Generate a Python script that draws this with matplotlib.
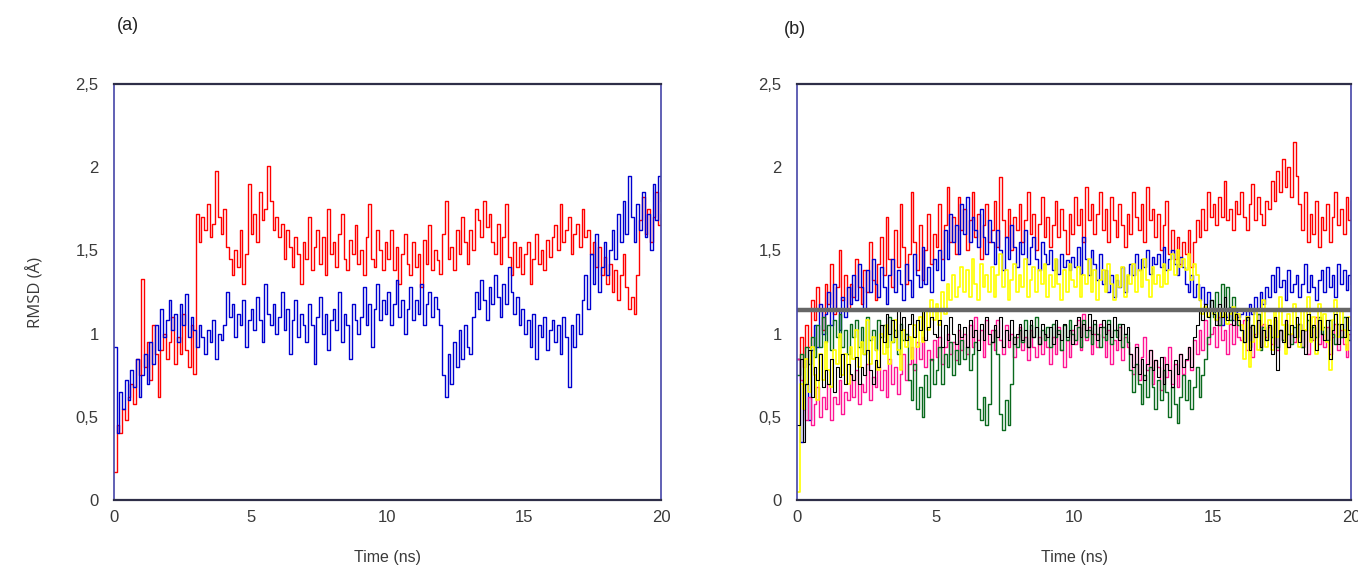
import numpy as np
import matplotlib
matplotlib.use("Agg")
import matplotlib.pyplot as plt
from matplotlib.ticker import FuncFormatter

# RMSD traces, both panels sampled every 0.1 ns
t = np.round(np.arange(0, 20.05, 0.1), 2)

# (a)
rmsd_a_red = [
    0.17, 0.45, 0.40, 0.55, 0.48, 0.62, 0.70, 0.58, 0.85, 0.75,
    1.33, 0.80, 0.95, 0.72, 1.05, 0.88, 0.62, 0.90, 1.00, 0.85,
    0.95, 1.10, 0.82, 0.98, 0.88, 1.12, 0.90, 0.80, 1.05, 0.76,
    1.72, 1.55, 1.70, 1.62, 1.78, 1.58, 1.66, 1.98, 1.70, 1.60,
    1.75, 1.52, 1.45, 1.35, 1.50, 1.40, 1.62, 1.30, 1.48, 1.90,
    1.60, 1.72, 1.55, 1.85, 1.68, 1.75, 2.01, 1.80, 1.62, 1.70,
    1.58, 1.66, 1.45, 1.62, 1.52, 1.40, 1.58, 1.48, 1.30, 1.55,
    1.45, 1.70, 1.38, 1.52, 1.62, 1.42, 1.58, 1.35, 1.75, 1.48,
    1.55, 1.40, 1.60, 1.72, 1.45, 1.38, 1.56, 1.48, 1.65, 1.42,
    1.50, 1.35, 1.58, 1.78, 1.45, 1.40, 1.62, 1.50, 1.38, 1.55,
    1.45, 1.62, 1.38, 1.52, 1.30, 1.48, 1.60, 1.42, 1.35, 1.55,
    1.40, 1.48, 1.28, 1.56, 1.42, 1.65, 1.38, 1.50, 1.44, 1.36,
    1.60, 1.80, 1.45, 1.52, 1.38, 1.62, 1.48, 1.70, 1.55, 1.42,
    1.62, 1.50, 1.75, 1.68, 1.58, 1.80, 1.64, 1.72, 1.55, 1.48,
    1.66, 1.42, 1.58, 1.78, 1.46, 1.35, 1.55, 1.40, 1.52, 1.36,
    1.48, 1.55, 1.30, 1.45, 1.60, 1.42, 1.50, 1.38, 1.56, 1.46,
    1.58, 1.65, 1.50, 1.78, 1.55, 1.62, 1.70, 1.48, 1.60, 1.66,
    1.52, 1.75, 1.58, 1.62, 1.48, 1.55, 1.40, 1.52, 1.35, 1.46,
    1.30, 1.42, 1.25, 1.38, 1.20, 1.35, 1.48, 1.28, 1.15, 1.22,
    1.12, 1.35, 1.68, 1.82, 1.60, 1.75, 1.55, 1.70, 1.85, 1.65,
    1.72,
]
rmsd_a_blue = [
    0.92, 0.40, 0.65, 0.55, 0.72, 0.60, 0.78, 0.68, 0.85, 0.62,
    0.75, 0.88, 0.70, 0.95, 0.82, 1.05, 0.90, 1.15, 0.98, 1.08,
    1.20, 1.02, 1.12, 0.95, 1.18, 1.05, 1.24, 0.98, 1.10, 1.02,
    0.92, 1.05, 0.98, 0.88, 1.02, 0.95, 1.08, 0.85, 1.00, 0.96,
    1.05, 1.25, 1.10, 1.18, 0.98, 1.12, 1.05, 1.20, 0.92, 1.08,
    1.15, 1.02, 1.22, 1.08, 0.95, 1.30, 1.12, 1.05, 1.18, 1.00,
    1.10, 1.25, 1.02, 1.15, 0.88, 1.08, 1.20, 0.98, 1.12, 1.05,
    0.95, 1.18, 1.05, 0.82, 1.10, 1.22, 1.00, 1.12, 0.90, 1.08,
    1.15, 1.02, 1.25, 0.95, 1.12, 1.05, 0.85, 1.18, 1.08, 1.00,
    1.10, 1.28, 1.05, 1.18, 0.92, 1.15, 1.30, 1.08, 1.20, 1.12,
    1.25, 1.05, 1.18, 1.32, 1.10, 1.20, 1.00, 1.15, 1.28, 1.08,
    1.20, 1.12, 1.30, 1.05, 1.18, 1.25, 1.10, 1.22, 1.15, 1.05,
    0.75, 0.62, 0.88, 0.70, 0.95, 0.80, 1.02, 0.85, 1.05, 0.92,
    0.88, 1.10, 1.25, 1.15, 1.32, 1.20, 1.08, 1.28, 1.18, 1.35,
    1.22, 1.10, 1.30, 1.18, 1.40, 1.25, 1.12, 1.22, 1.05, 1.15,
    1.00, 1.08, 0.92, 1.12, 0.85, 1.05, 0.98, 1.10, 0.90, 1.02,
    1.08, 0.95, 1.05, 0.88, 1.10, 0.98, 0.68, 1.05, 0.92, 1.12,
    1.00, 1.20, 1.35, 1.15, 1.48, 1.30, 1.60, 1.25, 1.40, 1.55,
    1.35, 1.50, 1.62, 1.45, 1.72, 1.55, 1.80, 1.60, 1.95, 1.70,
    1.55, 1.78, 1.62, 1.85, 1.58, 1.72, 1.50, 1.90, 1.68, 1.95,
    1.80,
]

# (b)
rmsd_b_red = [
    0.85, 0.98, 0.80, 1.05, 0.92, 1.20, 1.08, 1.28, 1.15, 1.02,
    1.30, 1.18, 1.42, 1.12, 1.28, 1.50, 1.20, 1.35, 1.15, 1.30,
    1.22, 1.45, 1.28, 1.18, 1.38, 1.25, 1.55, 1.32, 1.20, 1.42,
    1.58, 1.35, 1.70, 1.45, 1.28, 1.62, 1.40, 1.78, 1.52, 1.30,
    1.48, 1.85, 1.55, 1.38, 1.65, 1.32, 1.50, 1.72, 1.42, 1.60,
    1.52, 1.78, 1.45, 1.65, 1.88, 1.55, 1.70, 1.48, 1.82, 1.62,
    1.75, 1.50, 1.68, 1.85, 1.58, 1.72, 1.45, 1.65, 1.78, 1.55,
    1.62, 1.80, 1.52, 1.94, 1.68, 1.58, 1.75, 1.50, 1.70, 1.62,
    1.78, 1.55, 1.68, 1.85, 1.60, 1.72, 1.50, 1.66, 1.82, 1.58,
    1.70, 1.52, 1.65, 1.80, 1.58, 1.75, 1.62, 1.48, 1.72, 1.60,
    1.82, 1.65, 1.75, 1.55, 1.88, 1.68, 1.78, 1.60, 1.72, 1.85,
    1.62, 1.75, 1.55, 1.82, 1.68, 1.58, 1.78, 1.65, 1.52, 1.72,
    1.60, 1.85, 1.70, 1.62, 1.78, 1.55, 1.88, 1.68, 1.75, 1.58,
    1.72, 1.50, 1.65, 1.80, 1.48, 1.62, 1.45, 1.58, 1.42, 1.55,
    1.48, 1.62, 1.40, 1.55, 1.68, 1.58, 1.75, 1.62, 1.85, 1.70,
    1.78, 1.65, 1.82, 1.70, 1.92, 1.68, 1.75, 1.62, 1.80, 1.72,
    1.85, 1.70, 1.62, 1.78, 1.90, 1.68, 1.82, 1.72, 1.65, 1.80,
    1.75, 1.92, 1.80, 1.98, 1.85, 2.05, 1.88, 2.00, 1.82, 2.15,
    1.95, 1.78, 1.62, 1.85, 1.55, 1.72, 1.60, 1.80, 1.52, 1.70,
    1.62, 1.78, 1.55, 1.70, 1.85, 1.65, 1.75, 1.60, 1.82, 1.68,
    1.80,
]
rmsd_b_blue = [
    0.85, 0.35, 0.55, 0.70, 0.48, 0.90, 1.05, 0.92, 1.18, 1.00,
    1.12, 1.25, 1.05, 1.30, 1.15, 1.02, 1.22, 1.10, 1.28, 1.18,
    1.35, 1.20, 1.42, 1.28, 1.15, 1.38, 1.25, 1.45, 1.30, 1.22,
    1.40, 1.28, 1.18, 1.35, 1.45, 1.25, 1.38, 1.30, 1.20, 1.42,
    1.32, 1.22, 1.48, 1.35, 1.28, 1.52, 1.30, 1.40, 1.25, 1.45,
    1.38, 1.50, 1.32, 1.62, 1.45, 1.72, 1.55, 1.65, 1.48, 1.78,
    1.60, 1.82, 1.55, 1.70, 1.62, 1.52, 1.75, 1.58, 1.48, 1.68,
    1.55, 1.42, 1.62, 1.50, 1.38, 1.58, 1.45, 1.65, 1.52, 1.40,
    1.55, 1.48, 1.62, 1.42, 1.52, 1.58, 1.45, 1.38, 1.55, 1.48,
    1.42, 1.50, 1.38, 1.45, 1.36, 1.48, 1.40, 1.44, 1.38, 1.46,
    1.40, 1.52, 1.36, 1.58, 1.45, 1.35, 1.50, 1.42, 1.32, 1.48,
    1.30, 1.38, 1.25, 1.35, 1.22, 1.32, 1.28, 1.40, 1.25, 1.35,
    1.42, 1.35, 1.48, 1.38, 1.45, 1.40, 1.50, 1.36, 1.46, 1.42,
    1.48, 1.40, 1.52, 1.38, 1.45, 1.50, 1.42, 1.35, 1.46, 1.40,
    1.30, 1.25, 1.35, 1.22, 1.30, 1.20, 1.28, 1.18, 1.25, 1.15,
    1.12, 1.08, 1.15, 1.05, 1.12, 1.10, 1.16, 1.08, 1.14, 1.10,
    1.12, 1.15, 1.08, 1.18, 1.12, 1.22, 1.15, 1.25, 1.18, 1.28,
    1.22, 1.35, 1.25, 1.40, 1.28, 1.32, 1.20, 1.38, 1.25, 1.30,
    1.35, 1.22, 1.30, 1.42, 1.25, 1.35, 1.28, 1.20, 1.32, 1.38,
    1.25, 1.40, 1.28, 1.35, 1.22, 1.42, 1.30, 1.38, 1.26, 1.35,
    1.30,
]
rmsd_b_yellow = [
    0.05, 0.70, 0.55, 0.85, 0.65, 0.92, 0.75, 0.60, 0.88, 0.72,
    0.95, 0.78, 0.68, 0.90, 0.82, 1.00, 0.75, 0.88, 0.70, 0.92,
    0.85, 1.02, 0.80, 0.95, 0.88, 1.08, 0.82, 0.98, 0.90, 0.78,
    1.00, 0.88, 1.05, 0.82, 0.95, 1.08, 0.90, 0.78, 1.02, 0.92,
    0.98, 0.85, 1.05, 0.92, 1.10, 0.95, 1.15, 1.02, 1.20, 1.08,
    1.18, 1.05, 1.25, 1.12, 1.30, 1.20, 1.35, 1.22, 1.28, 1.40,
    1.25, 1.38, 1.22, 1.45, 1.30, 1.20, 1.42, 1.28, 1.35, 1.25,
    1.40, 1.22, 1.35, 1.48, 1.28, 1.38, 1.20, 1.32, 1.42, 1.25,
    1.35, 1.28, 1.45, 1.22, 1.32, 1.40, 1.25, 1.38, 1.30, 1.42,
    1.22, 1.35, 1.28, 1.45, 1.30, 1.20, 1.38, 1.25, 1.42, 1.32,
    1.28, 1.40, 1.22, 1.35, 1.30, 1.45, 1.25, 1.38, 1.20, 1.32,
    1.38, 1.25, 1.42, 1.30, 1.20, 1.35, 1.28, 1.40, 1.22, 1.35,
    1.30, 1.42, 1.25, 1.38, 1.28, 1.45, 1.32, 1.22, 1.40, 1.30,
    1.35, 1.28, 1.42, 1.30, 1.38, 1.48, 1.35, 1.50, 1.40, 1.45,
    1.38, 1.48, 1.32, 1.42, 1.35, 1.20, 1.12, 1.16, 1.10, 1.14,
    1.12, 1.08, 1.15, 1.10, 1.14, 1.06, 1.12, 1.16, 1.08, 1.12,
    1.05, 0.85, 1.10, 0.80, 0.95, 1.15, 0.90, 1.05, 1.20, 0.92,
    1.08, 0.90, 1.15, 0.98, 1.22, 1.05, 0.88, 1.12, 1.00, 1.18,
    1.05, 0.92, 1.15, 1.02, 1.22, 0.95, 1.10, 0.88, 1.18, 1.02,
    1.12, 0.95, 0.78, 1.08, 1.20, 0.98, 1.15, 1.02, 0.90, 1.10,
    1.05,
]
rmsd_b_black = [
    0.45, 0.85, 0.35, 0.70, 0.90, 0.62, 0.80, 0.72, 0.88, 0.68,
    0.78, 0.70, 0.85, 0.65, 0.80, 0.74, 0.88, 0.70, 0.82, 0.76,
    0.72, 0.86, 0.70, 0.80, 0.75, 0.90, 0.78, 0.70, 0.84, 0.80,
    1.05, 0.95, 1.12, 1.00, 1.08, 0.98, 1.14, 1.02, 1.10, 0.96,
    1.06, 1.12, 0.98, 1.08, 1.02, 1.14, 0.96, 1.04, 1.10, 1.00,
    0.98, 1.08, 0.92, 1.05, 0.96, 1.10, 1.00, 0.94, 1.06, 0.98,
    1.04, 0.92, 1.08, 0.98, 1.02, 0.90, 1.06, 0.96, 1.10, 1.00,
    0.95, 1.05, 0.98, 1.10, 0.92, 1.02, 0.96, 1.08, 0.94, 1.00,
    1.06, 0.96, 1.02, 0.92, 1.08, 0.98, 1.04, 0.94, 1.06, 1.00,
    0.98, 1.04, 0.94, 1.08, 1.00, 0.96, 1.06, 0.98, 1.02, 0.94,
    1.05, 1.10, 0.98, 1.06, 1.02, 1.12, 1.00, 1.08, 0.96, 1.04,
    1.08, 1.00, 1.06, 0.98, 1.10, 1.02, 0.96, 1.06, 1.00, 1.04,
    0.88, 0.80, 0.92, 0.76, 0.85, 0.72, 0.82, 0.90, 0.78, 0.84,
    0.74, 0.86, 0.70, 0.82, 0.78, 0.68, 0.84, 0.76, 0.88, 0.80,
    0.85, 0.92, 0.80, 0.98, 1.05, 1.15, 1.08, 1.18, 1.10, 1.20,
    1.12, 1.05, 1.18, 1.10, 1.22, 1.08, 1.15, 1.05, 1.12, 1.08,
    1.02, 0.95, 1.10, 0.90, 1.05, 0.98, 1.08, 0.92, 1.02, 0.96,
    1.05, 0.88, 1.10, 0.78, 1.02, 0.95, 1.08, 0.92, 1.05, 0.98,
    1.10, 0.95, 1.02, 0.88, 1.12, 0.98, 1.05, 0.90, 1.08, 1.00,
    0.96, 1.08, 0.85, 1.02, 1.12, 0.94, 1.06, 0.98, 1.10, 1.02,
    1.05,
]
rmsd_b_green = [
    0.75, 0.88, 0.70, 0.92, 0.82, 0.98, 0.86, 1.05, 0.92, 1.10,
    0.95, 1.05, 0.90, 1.08, 0.98, 1.12, 0.92, 1.02, 0.88, 1.06,
    0.98, 1.08, 0.92, 1.04, 0.88, 1.10, 0.96, 1.02, 0.90, 1.08,
    0.98, 1.05, 0.92, 1.10, 0.95, 1.02, 0.88, 1.06, 0.96, 1.00,
    0.72, 0.60, 0.82, 0.55, 0.68, 0.50, 0.75, 0.62, 0.85, 0.70,
    0.78, 0.92, 0.70, 0.88, 0.80, 0.95, 0.75, 0.90, 0.82, 0.96,
    0.85, 0.92, 0.78, 0.88, 0.95, 0.55, 0.48, 0.62, 0.45, 0.58,
    0.95, 1.02, 0.88, 0.52, 0.42, 0.60, 0.45, 0.70, 0.98, 0.92,
    1.02, 0.95, 1.08, 0.92, 1.05, 0.98, 1.10, 0.94, 1.02, 0.96,
    1.04, 0.92, 1.06, 0.98, 1.02, 0.90, 1.05, 0.96, 1.08, 1.00,
    0.96, 1.04, 0.92, 1.08, 0.98, 1.02, 0.94, 1.06, 1.00, 0.92,
    1.04, 0.96, 1.08, 0.94, 1.02, 0.98, 1.06, 0.92, 1.00, 0.95,
    0.78, 0.65, 0.82, 0.70, 0.58, 0.75, 0.62, 0.80, 0.68, 0.55,
    0.72, 0.60, 0.78, 0.65, 0.50, 0.68, 0.58, 0.46, 0.62, 0.75,
    0.60, 0.72, 0.55, 0.68, 0.80, 0.62, 0.75, 0.85, 0.98, 1.20,
    1.10, 1.25, 1.05, 1.30, 1.15, 1.28, 1.08, 1.22, 1.12, 1.05,
    1.02, 0.95, 1.10, 0.92, 1.05, 0.98, 1.12, 0.90, 1.04, 0.96,
    1.05, 0.98, 1.08, 0.92, 1.02, 0.96, 1.06, 1.00, 0.94, 1.04,
    0.98, 1.06, 0.92, 1.02, 1.08, 0.96, 1.04, 0.98, 1.10, 1.00,
    1.04, 0.96, 1.08, 1.00, 0.94, 1.06, 0.98, 1.10, 1.02, 0.96,
    1.02,
]
rmsd_b_pink = [
    0.85, 0.72, 0.55, 0.48, 0.62, 0.45, 0.58, 0.68, 0.50, 0.62,
    0.55, 0.70, 0.48, 0.62, 0.58, 0.72, 0.52, 0.65, 0.60, 0.75,
    0.62, 0.78, 0.58, 0.70, 0.65, 0.82, 0.60, 0.74, 0.68, 0.80,
    0.66, 0.78, 0.62, 0.85, 0.70, 0.80, 0.64, 0.76, 0.88, 0.72,
    0.82, 0.92, 0.78, 0.95, 0.85, 0.98, 0.80, 0.90, 0.84, 0.96,
    0.86, 0.98, 0.82, 0.92, 1.00, 0.88, 0.95, 0.84, 1.02, 0.90,
    1.00, 0.88, 1.05, 0.92, 1.10, 0.96, 1.02, 0.86, 1.08, 0.94,
    1.02, 0.90, 1.08, 0.96, 0.88, 1.05, 0.92, 1.00, 0.86, 0.98,
    1.04, 0.90, 0.98, 0.84, 1.02, 0.92, 0.86, 0.98, 0.88, 1.00,
    0.92, 0.82, 0.98, 0.88, 1.04, 0.90, 0.80, 0.96, 0.86, 1.02,
    0.94, 1.08, 0.90, 1.12, 0.96, 1.04, 0.88, 1.00, 0.92, 1.06,
    0.98, 0.86, 1.02, 0.82, 0.96, 0.90, 1.04, 0.84, 0.98, 0.92,
    0.88, 0.76, 0.94, 0.72, 0.86, 0.98, 0.78, 0.90, 0.70, 0.84,
    0.80, 0.66, 0.86, 0.74, 0.92, 0.70, 0.82, 0.68, 0.88, 0.76,
    0.84, 0.92, 0.78, 0.96, 0.88, 1.02, 0.90, 1.08, 0.94, 1.00,
    1.04, 0.92, 1.10, 0.96, 1.02, 0.88, 1.06, 0.94, 1.12, 0.98,
    0.96, 1.08, 0.90, 1.04, 0.86, 1.00, 1.12, 0.92, 1.06, 0.98,
    1.04, 0.94, 1.10, 0.90, 1.02, 0.96, 1.08, 0.92, 1.00, 0.95,
    0.98, 1.06, 0.92, 1.02, 0.88, 1.04, 0.96, 1.10, 0.94, 1.00,
    0.92, 1.04, 0.88, 0.98, 1.06, 0.90, 1.02, 0.94, 0.86, 1.00,
    0.96,
]
ref_level = 1.14

x_ticks = [0, 5, 10, 15, 20]
y_ticks = [0, 0.5, 1, 1.5, 2, 2.5]

plt.rcParams["font.family"] = ["Liberation Sans", "DejaVu Sans"]

fig = plt.figure(figsize=(13.58, 5.71), dpi=100)
ax_a = fig.add_axes([0.0839, 0.1243, 0.4028, 0.7285])
ax_b = fig.add_axes([0.5869, 0.1243, 0.4080, 0.7285])

comma = FuncFormatter(lambda v, _: f"{v:g}".replace(".", ","))


def style(ax):
    ax.set_xlim(0, 20)
    ax.set_ylim(0, 2.5)
    ax.set_xticks(x_ticks)
    ax.set_yticks(y_ticks)
    ax.yaxis.set_major_formatter(comma)
    ax.tick_params(length=0, labelsize=12, labelcolor="#3a3a3a")
    ax.tick_params(axis="x", pad=7)
    ax.tick_params(axis="y", pad=11)
    for side in ("top", "bottom"):
        ax.spines[side].set_color("#2e2e48")
        ax.spines[side].set_linewidth(1.6)
    for side in ("left", "right"):
        ax.spines[side].set_color("#4646a8")
        ax.spines[side].set_linewidth(1.2)
    ax.set_xlabel("Time (ns)", fontsize=11.5, color="#3a3a3a", labelpad=18)


def trace(ax, y, color, lw=1.0):
    ax.plot(t, y, color=color, lw=lw, drawstyle="steps-post")


trace(ax_a, rmsd_a_red, "#ff0000")
trace(ax_a, rmsd_a_blue, "#0000d0")
style(ax_a)
ax_a.set_ylabel("RMSD (Å)", fontsize=12, color="#3a3a3a", labelpad=22,
                family=["Open Sans", "DejaVu Sans"])

trace(ax_b, rmsd_b_red, "#ff0000")
trace(ax_b, rmsd_b_blue, "#0000d0")
trace(ax_b, rmsd_b_pink, "#ff1493")
trace(ax_b, rmsd_b_green, "#0a6a1e")
trace(ax_b, rmsd_b_yellow, "#ffff00", lw=1.2)
trace(ax_b, rmsd_b_black, "#000000", lw=0.8)
ax_b.axhline(ref_level, color="#666666", lw=3.2)
style(ax_b)

fig.text(0.086, 0.955, "(a)", fontsize=13, color="#222222", va="center")
fig.text(0.577, 0.948, "(b)", fontsize=13, color="#222222", va="center")

fig.savefig("out.png", dpi=100)
